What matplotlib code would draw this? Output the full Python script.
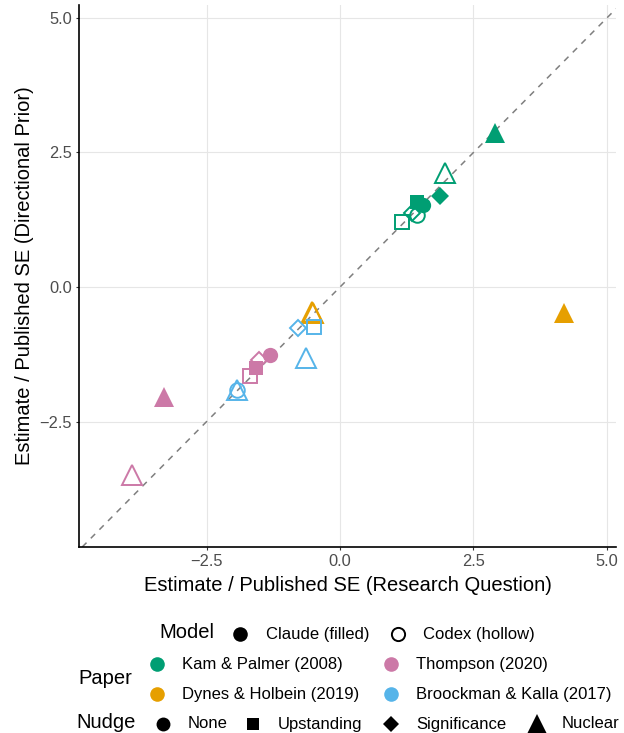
import matplotlib
matplotlib.use('Agg')
import matplotlib.pyplot as plt
from matplotlib.lines import Line2D

plt.rcParams['font.family'] = ['Liberation Sans', 'DejaVu Sans']

W, H = 624, 733

papers = ['Kam & Palmer (2008)', 'Dynes & Holbein (2019)',
          'Thompson (2020)', 'Broockman & Kalla (2017)']
paper_colors = {'Kam & Palmer (2008)': '#009E73',
                'Dynes & Holbein (2019)': '#E69F00',
                'Thompson (2020)': '#CC79A7',
                'Broockman & Kalla (2017)': '#56B4E9'}
nudges = ['None', 'Upstanding', 'Significance', 'Nuclear']
nudge_markers = {'None': 'o', 'Upstanding': 's', 'Significance': 'D', 'Nuclear': '^'}
nudge_sizes = {'None': 11, 'Upstanding': 10, 'Significance': 9, 'Nuclear': 15}
models = ['Claude (filled)', 'Codex (hollow)']

# one row per run
run_paper = ['Kam & Palmer (2008)'] * 8 + \
            ['Dynes & Holbein (2019)'] * 3 + \
            ['Thompson (2020)'] * 6 + \
            ['Broockman & Kalla (2017)'] * 5
run_model = ['Claude', 'Claude', 'Claude', 'Claude', 'Codex', 'Codex', 'Codex', 'Codex',
             'Claude', 'Codex', 'Codex',
             'Claude', 'Claude', 'Claude', 'Codex', 'Codex', 'Codex',
             'Codex', 'Codex', 'Codex', 'Codex', 'Codex']
run_nudge = ['Upstanding', 'None', 'Significance', 'Nuclear',
             'Upstanding', 'None', 'Significance', 'Nuclear',
             'Nuclear', 'Nuclear', 'Nuclear',
             'Upstanding', 'None', 'Nuclear', 'Upstanding', 'Significance', 'Nuclear',
             'Upstanding', 'Significance', 'Nuclear', 'Nuclear', 'None']
est_question = [1.44, 1.55, 1.87, 2.90,
                1.16, 1.44, 1.35, 1.97,
                4.19, -0.53, -0.50,
                -1.58, -1.31, -3.30, -1.69, -1.52, -3.90,
                -0.49, -0.79, -0.64, -1.93, -1.93]
est_prior = [1.58, 1.52, 1.69, 2.86,
             1.21, 1.34, 1.38, 2.12,
             -0.48, -0.46, -0.49,
             -1.50, -1.26, -2.04, -1.65, -1.36, -3.49,
             -0.74, -0.76, -1.32, -1.91, -1.91]

fig = plt.figure(figsize=(W / 100, H / 100), dpi=100)
ax = fig.add_axes([79 / W, 1 - 547 / H, (616 - 79) / W, (547 - 5) / H])

ax.set_xlim(-4.89, 5.17)
ax.set_ylim(-4.83, 5.24)
ticks = [-2.5, 0.0, 2.5, 5.0]
ax.set_xticks(ticks)
ax.set_yticks(ticks)
ax.set_xticklabels(['\u22122.5', '0.0', '2.5', '5.0'])
ax.set_yticklabels(['\u22122.5', '0.0', '2.5', '5.0'])
ax.grid(True, color='#E6E6E6', linewidth=0.8)
ax.set_axisbelow(True)
for side in ['top', 'right']:
    ax.spines[side].set_visible(False)
for side in ['left', 'bottom']:
    ax.spines[side].set_linewidth(1.2)
    ax.spines[side].set_color('black')
ax.tick_params(length=2.5, width=0.8, color='#333333', labelsize=11.8,
               labelcolor='#4D4D4D', pad=2.5)

ax.axline((0, 0), slope=1, color='#7F7F7F', linestyle=(0, (4, 4)), linewidth=1.1,
          zorder=1)

for p, m, n, x, y in zip(run_paper, run_model, run_nudge, est_question, est_prior):
    c = paper_colors[p]
    if m == 'Claude':
        ax.plot(x, y, marker=nudge_markers[n], markersize=nudge_sizes[n],
                color=c, markeredgewidth=0, linestyle='none', zorder=3)
    else:
        ax.plot(x, y, marker=nudge_markers[n], markersize=nudge_sizes[n] - 0.5,
                markerfacecolor='none', markeredgecolor=c, markeredgewidth=1.4,
                linestyle='none', zorder=3)

ax.set_xlabel('Estimate / Published SE (Research Question)', fontsize=14.5,
              labelpad=5)
ax.set_ylabel('Estimate / Published SE (Directional Prior)', fontsize=14.5,
              labelpad=4)


# legend drawn in figure pixel positions
def fx(px):
    return px / W


def fy(py):
    return 1 - py / H


def key(px, py, marker, size, face, edge):
    fig.add_artist(Line2D([fx(px)], [fy(py)], marker=marker, markersize=size,
                          markerfacecolor=face, markeredgecolor=edge,
                          markeredgewidth=1.4 if face == 'none' else 0,
                          linestyle='none', transform=fig.transFigure))


def label(px, py, s, size=12):
    fig.text(fx(px), fy(py), s, fontsize=size, va='center', ha='left')


# Model
label(159, 633, 'Model', 14.5)
key(240, 634, 'o', 10.5, 'black', 'black')
label(266, 634, models[0])
key(398, 634, 'o', 9.5, 'none', 'black')
label(423, 634, models[1])

# Paper
label(78, 679, 'Paper', 14.5)
paper_pos = [(157, 664), (157, 694), (391, 664), (391, 694)]
for p, (px, py) in zip(papers, paper_pos):
    key(px, py, 'o', 10.5, paper_colors[p], paper_colors[p])
    label(px + 25, py, p)

# Nudge
label(76, 723, 'Nudge', 14.5)
nudge_pos = [163, 253, 391, 537]
for n, px in zip(nudges, nudge_pos):
    key(px, 724, nudge_markers[n], nudge_sizes[n] - 1, 'black', 'black')
    label(px + 25, 724, n)

fig.savefig('out.png', dpi=100)
